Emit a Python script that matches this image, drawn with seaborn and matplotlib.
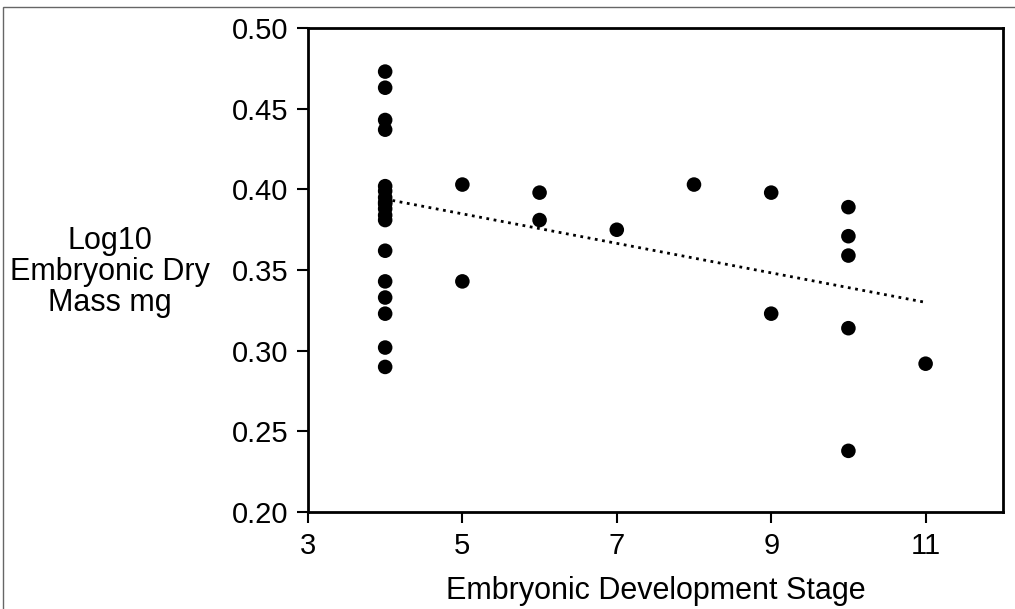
import matplotlib
matplotlib.use("Agg")
import matplotlib.pyplot as plt
from matplotlib.patches import Rectangle
import pandas as pd
import seaborn as sn

# data
stage = [4, 4, 4, 4, 4, 4, 4, 4, 4, 4, 4, 4, 4, 4, 4, 4, 4, 4,
         5, 5, 6, 6, 7, 8, 9, 9, 10, 10, 10, 10, 10, 11]
log_mass = [0.473, 0.463, 0.443, 0.437, 0.402, 0.399, 0.395, 0.391, 0.388, 0.384, 0.381,
            0.362, 0.343, 0.333, 0.323, 0.302, 0.290, 0.392,
            0.403, 0.343, 0.398, 0.381, 0.375, 0.403, 0.398, 0.323,
            0.389, 0.371, 0.359, 0.314, 0.238, 0.292]
trend_x = [4, 11]
trend_y = [0.394, 0.330]
x_ticks = [3, 5, 7, 9, 11]
y_ticks = [0.20, 0.25, 0.30, 0.35, 0.40, 0.45, 0.50]

df = pd.DataFrame({'stage': stage, 'mass': log_mass})
trend = pd.DataFrame({'stage': trend_x, 'mass': trend_y})

sn.set_style('white')
plt.rcParams['font.family'] = ['Liberation Sans', 'DejaVu Sans']
plt.rcParams['text.color'] = 'black'
plt.rcParams['axes.labelcolor'] = 'black'
plt.rcParams['xtick.color'] = 'black'
plt.rcParams['ytick.color'] = 'black'

fig = plt.figure(figsize=(10.15, 6.09), dpi=100)
ax = fig.add_axes([0.3034, 0.159, 0.6846, 0.795])

sn.scatterplot(data=df, x='stage', y='mass', ax=ax, s=110, color='black',
               edgecolor='none', zorder=3)
sn.lineplot(data=trend, x='stage', y='mass', ax=ax, color='black',
            linestyle=':', linewidth=2)

ax.set_xlim(3, 12)
ax.set_ylim(0.20, 0.50)
ax.set_xticks(x_ticks)
ax.set_yticks(y_ticks)
ax.set_yticklabels([f'{v:.2f}' for v in y_ticks])
ax.tick_params(axis='both', labelsize=21, direction='out', length=8, width=1.5,
               color='black', labelcolor='black', left=True, bottom=True, pad=6)
for s in ax.spines.values():
    s.set_color('black')
    s.set_linewidth(2)

ax.set_xlabel('Embryonic Development Stage', fontsize=22, labelpad=12, color='black')
ax.set_ylabel('Log10\nEmbryonic Dry\nMass mg', fontsize=22, rotation=0, color='black',
              ha='center', va='center', linespacing=1.05)
ax.yaxis.set_label_coords(-0.285, 0.496)

# thin frame round the picture
fig.patches.append(Rectangle((0.003, -0.05), 1.2, 1.05 - 0.0115, transform=fig.transFigure,
                             fill=False, edgecolor='#666666', linewidth=1))

fig.savefig('out.png', dpi=100)
